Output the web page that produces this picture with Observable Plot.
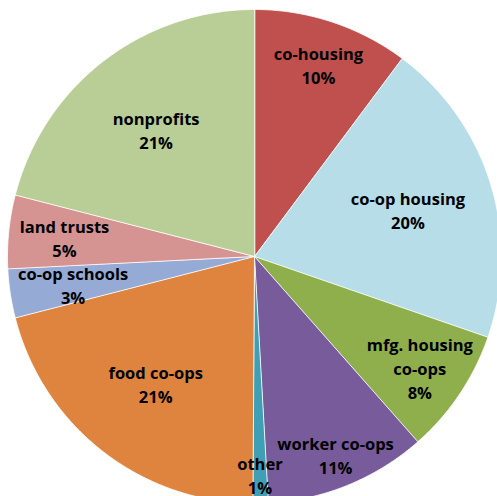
<!DOCTYPE html>
<html>
<head>
<meta charset="utf-8">
<script src="https://cdn.jsdelivr.net/npm/d3@7"></script>
<script src="https://cdn.jsdelivr.net/npm/@observablehq/plot@0.6"></script>
<style>
  html, body { margin: 0; padding: 0; background: #fff; overflow: hidden; }
  #chart svg { display: block; }
</style>
</head>
<body>
<div id="chart"></div>
<script>
// ---- data ----
const categories = ["co-housing", "co-op housing", "mfg. housing\nco-ops", "worker co-ops", "other", "food co-ops", "co-op schools", "land trusts", "nonprofits"];
const shares = [10.2, 20.1, 8.2, 10.6, 1.0, 20.9, 3.2, 4.8, 21.0];
const colors = ["#C0504D", "#B7DEE8", "#8FAF4C", "#775B9B", "#3F9FB5", "#DF843F", "#95AAD5", "#D59392", "#B9CE97"];

// ---- layout ----
const W = 497, H = 496;
const cx = 254, cy = 256, R = 247;
const FONT_SIZE = 16.5, LINE = 24;
const FONT_FAMILY = "'Open Sans', Lato, sans-serif";

const total = d3.sum(shares);
const arcs = d3.pie().sort(null).value(d => d)(shares);

// slice outlines (polygons built from pie angles)
const pts = [];
arcs.forEach((a, i) => {
  pts.push({slice: i, px: 0, py: 0, color: colors[i]});
  const n = Math.max(2, Math.ceil((a.endAngle - a.startAngle) / (Math.PI / 360)));
  for (let k = 0; k <= n; k++) {
    const t = a.startAngle + (a.endAngle - a.startAngle) * k / n;
    pts.push({slice: i, px: R * Math.sin(t), py: -R * Math.cos(t), color: colors[i]});
  }
});

// label placement: big slices at a fixed radius, small ones pushed out
// until the text block touches the rim (best-fit style)
const ctx = document.createElement("canvas").getContext("2d");
ctx.font = `bold ${FONT_SIZE}px ${FONT_FAMILY}`;
const margin = 9, halfH = 0.42 * FONT_SIZE;
const labels = arcs.map((a, i) => {
  const share = shares[i] / total;
  const text = categories[i] + "\n" + Math.round(share * 100) + "%";
  const lines = text.split("\n");
  const widths = lines.map(l => ctx.measureText(l).width);
  const mid = (a.startAngle + a.endAngle) / 2;
  const ux = Math.sin(mid), uy = -Math.cos(mid);
  let r = 0.65 * R;
  if (share < 0.15) {
    const fits = rr => lines.every((l, k) => {
      const oy = (k - (lines.length - 1) / 2) * LINE;
      for (const sx of [-1, 1]) for (const sy of [-1, 1]) {
        const x = rr * ux + sx * widths[k] / 2;
        const y = rr * uy + oy + sy * halfH;
        if (Math.hypot(x, y) > R - margin) return false;
      }
      return true;
    });
    r = 0.5 * R;
    while (r < R && fits(r + 0.5)) r += 0.5;
  }
  return {px: r * ux, py: r * uy, text};
});

const chart = Plot.plot({
  width: W,
  height: H,
  margin: 0,
  x: {domain: [-cx, W - cx], range: [0, W], axis: null},
  y: {domain: [-cy, H - cy], range: [0, H], axis: null},
  color: {type: "identity"},
  style: {background: "#fff"},
  marks: [
    Plot.line(pts, {x: "px", y: "py", z: "slice", fill: "color", stroke: "#fff", strokeWidth: 0.8, curve: "linear-closed"}),
    Plot.text(labels, {x: "px", y: "py", text: "text", fontSize: FONT_SIZE, fontWeight: "bold", fontFamily: FONT_FAMILY, fill: "#000", lineHeight: LINE / FONT_SIZE})
  ]
});
document.getElementById("chart").appendChild(chart);
</script>
</body>
</html>
